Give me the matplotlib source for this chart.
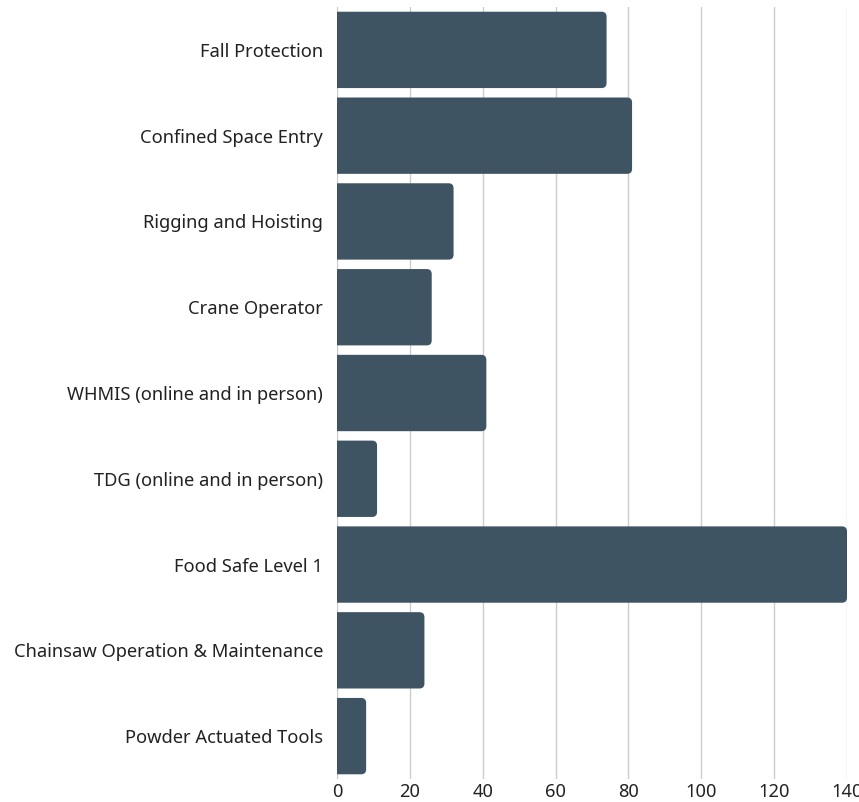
import numpy as np
import matplotlib
matplotlib.use("Agg")
import matplotlib.pyplot as plt
from matplotlib.patches import FancyBboxPatch, Rectangle

categories = [
    "Fall Protection",
    "Confined Space Entry",
    "Rigging and Hoisting",
    "Crane Operator",
    "WHMIS (online and in person)",
    "TDG (online and in person)",
    "Food Safe Level 1",
    "Chainsaw Operation & Maintenance",
    "Powder Actuated Tools",
]
counts = [74, 81, 32, 26, 41, 11, 140, 24, 8]
xticks = [0, 20, 40, 60, 80, 100, 120, 140]

bar_color = "#3f5462"

plt.rcParams["font.family"] = ["Noto Sans", "DejaVu Sans"]

fig = plt.figure(figsize=(8.59, 8.02), dpi=100)
ax = fig.add_axes([337 / 859, 1 - 779 / 802, (847 - 337) / 859, (779 - 7) / 802])

y = np.arange(len(categories))
bars = ax.barh(y, counts, height=0.89, color=bar_color, zorder=3)

ax.set_xlim(0, 140)
ax.set_ylim(len(categories) - 0.5, -0.5)

# swap plain rectangles for ones with rounded right corners
fig.canvas.draw()
px_per_x = ax.transData.transform((1, 0))[0] - ax.transData.transform((0, 0))[0]
px_per_y = abs(ax.transData.transform((0, 1))[1] - ax.transData.transform((0, 0))[1])
r_px = 5
rx = r_px / px_per_x
aspect = (r_px / px_per_y) / rx
clip_rect = Rectangle((0, -0.5), 200, len(categories), transform=ax.transData)
for b in bars:
    x0, y0, w, h = b.get_x(), b.get_y(), b.get_width(), b.get_height()
    b.set_visible(False)
    p = FancyBboxPatch((x0 - 3, y0), w + 3, h,
                       boxstyle=f"round,pad=0,rounding_size={rx}",
                       mutation_aspect=aspect,
                       facecolor=bar_color, edgecolor="none", zorder=3)
    ax.add_patch(p)
    p.set_clip_path(clip_rect)
    p.set_clip_on(True)

ax.set_xticks(xticks)
ax.set_yticks(y)
ax.set_yticklabels(categories)
ax.tick_params(axis="both", length=0, labelsize=13.2, colors="#222222")
ax.tick_params(axis="y", pad=10)
ax.tick_params(axis="x", pad=3)
ax.grid(axis="x", color="#cccccc", linewidth=1, zorder=0)
for s in ax.spines.values():
    s.set_visible(False)

fig.savefig("out.png", dpi=100)
